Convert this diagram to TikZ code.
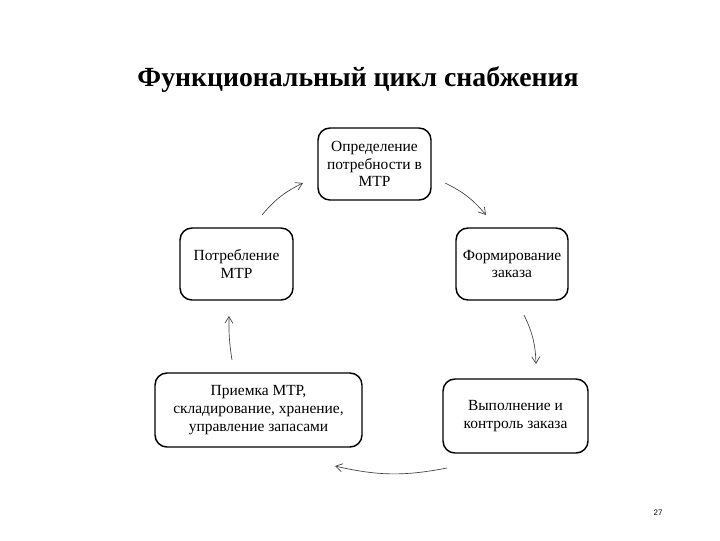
\documentclass[tikz,border=0pt]{standalone}
\usepackage{fontspec}
\setmainfont{Liberation Serif}
\newfontfamily\pnfont{Liberation Sans}
\usetikzlibrary{arrows.meta}
\begin{document}
\begin{tikzpicture}[x=0.75pt,y=-0.75pt,
  box/.style={draw=black,line width=1.1pt,rounded corners=9pt,align=center,
    font=\fontsize{11.6}{13.2}\selectfont,inner sep=0pt},
  cyc/.style={draw=black!75,line width=0.5pt,-{Straight Barb[length=5pt,width=6pt]}}]
\useasboundingbox (0,0) rectangle (720,540);
\node[font=\bfseries\fontsize{20.8}{23}\selectfont] (title) at (358,80) {Функциональный цикл снабжения};
\node[box,minimum width=113*0.75pt,minimum height=72*0.75pt] (def) at (374.5,164) {Определение\\потребности в\\МТР};
\node[box,minimum width=113*0.75pt,minimum height=72*0.75pt] (use) at (236.5,264) {Потребление\\МТР};
\node[box,minimum width=112*0.75pt,minimum height=72*0.75pt] (form) at (512,264) {Формирование\\заказа};
\node[box,minimum width=207*0.75pt,minimum height=74*0.75pt] (recv) at (258.5,410) {Приемка МТР,\\складирование, хранение,\\управление запасами};
\node[box,minimum width=145*0.75pt,minimum height=74*0.75pt] (exec) at (515.5,416) {Выполнение и\\контроль заказа};
\node[font=\pnfont\fontsize{6}{7}\selectfont] (pn) at (658,513) {27};
\coordinate (a1s) at (262,215); \coordinate (a1e) at (303,183);
\coordinate (a2s) at (445,183); \coordinate (a2e) at (486,215);
\coordinate (a3s) at (524,315); \coordinate (a3e) at (536,364);
\coordinate (a4s) at (447,468); \coordinate (a4e) at (335,466);
\coordinate (a5s) at (232,360); \coordinate (a5e) at (229,316);
\draw[cyc] (a1s) to[bend left=12] (a1e);
\draw[cyc] (a2s) to[bend left=12] (a2e);
\draw[cyc] (a3s) to[bend left=12] (a3e);
\draw[cyc] (a4s) to[bend left=12] (a4e);
\draw[cyc] (a5s) to[bend left=5] (a5e);
\end{tikzpicture}
\end{document}
